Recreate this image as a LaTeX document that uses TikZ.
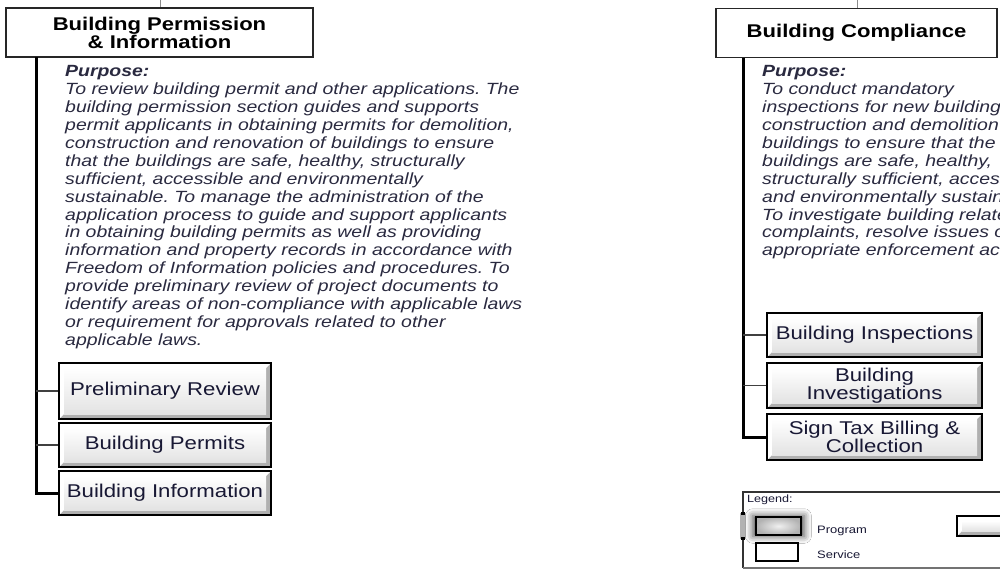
\documentclass[tikz,border=0pt]{standalone}
\usepackage{fontspec}
\setmainfont{Liberation Sans}[FakeStretch=1.2]
\usetikzlibrary{calc,shadows.blur}
\frenchspacing
\definecolor{txt}{RGB}{42,42,64}
\definecolor{boxtxt}{RGB}{24,24,52}
\tikzset{
  titlebox/.style={draw=black!85, line width=1.6pt, fill=white, minimum height=49pt,
    inner sep=0pt, align=center, text=black, font=\bfseries\fontsize{18.4}{18}\selectfont},
  purp/.style={anchor=north west, inner sep=0pt, align=left, text=txt,
    font=\itshape\fontsize{16.2}{17.9}\selectfont},
  progbox/.style={draw=black, line width=2.4pt, inner sep=0pt, align=center, text=boxtxt,
    font=\fontsize{18.5}{17}\selectfont,
    path picture={
      \fill[gray!62] (path picture bounding box.south west) rectangle (path picture bounding box.north east);
      \fill[white] (path picture bounding box.south west) -- (path picture bounding box.north west)
        -- (path picture bounding box.north east) -- ([shift={(-5pt,-5pt)}]path picture bounding box.north east)
        -- ([shift={(5pt,-5pt)}]path picture bounding box.north west) -- ([shift={(5pt,5pt)}]path picture bounding box.south west) -- cycle;
      \shade[top color=white, bottom color=gray!22] ([shift={(5pt,5pt)}]path picture bounding box.south west)
        rectangle ([shift={(-5pt,-5pt)}]path picture bounding box.north east);
    }},
  trunk/.style={draw=black, line width=3pt},
  branch/.style={draw=black!75, line width=1.5pt},
  stub/.style={draw=black!45, line width=1pt},
  legline/.style={draw=black!80, line width=1.5pt},
  legtext/.style={anchor=base west, inner sep=0pt, text=boxtxt, font=\fontsize{10.8}{11}\selectfont},
}
\begin{document}
\begin{tikzpicture}[x=1pt,y=-1pt]
\clip (0,0) rectangle (1000,570);
\fill[white] (0,0) rectangle (1000,570);

% titles
\node[titlebox, minimum width=307pt] (t1) at (159.5,32.5) {Building Permission\\\& Information};
\node[titlebox, minimum width=281pt] (t2) at (856.5,33) {Building Compliance};
\coordinate (s1) at (160,0);
\coordinate (s2) at (857,0);
\draw[stub] (s1) -- (s1 |- t1.north);
\draw[stub] (s2) -- (s2 |- t2.north);

% purposes
\node[purp] (u1) at (65,65.5) {\textbf{Purpose:}\\
To review building permit and other applications. The\\
building permission section guides and supports\\
permit applicants in obtaining permits for demolition,\\
construction and renovation of buildings to ensure\\
that the buildings are safe, healthy, structurally\\
sufficient, accessible and environmentally\\
sustainable. To manage the administration of the\\
application process to guide and support applicants\\
in obtaining building permits as well as providing\\
information and property records in accordance with\\
Freedom of Information policies and procedures. To\\
provide preliminary review of project documents to\\
identify areas of non-compliance with applicable laws\\
or requirement for approvals related to other\\
applicable laws.};

\node[purp] (u2) at (762,65.5) {\textbf{Purpose:}\\
To conduct mandatory\\
inspections for new building\\
construction and demolition\\
buildings to ensure that the\\
buildings are safe, healthy,\\
structurally sufficient, accessible\\
and environmentally sustainable.\\
To investigate building related\\
complaints, resolve issues or\\
appropriate enforcement action.};

% left programs
\coordinate (v1) at (36,57);
\node[progbox, minimum width=212pt, minimum height=56pt] (p1) at (165,391) {Preliminary Review};
\node[progbox, minimum width=212pt, minimum height=44pt] (p2) at (165,445) {Building Permits};
\node[progbox, minimum width=212pt, minimum height=44pt] (p3) at (165,493) {Building Information};
\draw[trunk] (v1) |- (p3.west);
\draw[branch] (v1 |- p1.west) -- (p1.west);
\draw[branch] (v1 |- p2.west) -- (p2.west);

% right programs
\coordinate (v2) at (743,58);
\node[progbox, minimum width=215pt, minimum height=44pt] (r1) at (874.5,335) {Building Inspections};
\node[progbox, minimum width=215pt, minimum height=45pt] (r2) at (874.5,385.5) {Building\\Investigations};
\node[progbox, minimum width=215pt, minimum height=46pt] (r3) at (874.5,437) {Sign Tax Billing \&\\Collection};
\draw[trunk] (v2) |- (r3.west);
\draw[branch] (v2 |- r1.west) -- (r1.west);
\draw[branch] (v2 |- r2.west) -- (r2.west);

% legend
\coordinate (lg) at (743,492);
\coordinate (lgb) at (743,568);
\draw[legline] (1005,492) -- (lg) -- (lgb);
\draw[draw=black!55, line width=1.5pt] (lgb) -- (1005,568);
\node[legtext, font=\fontsize{10.5}{11}\selectfont] (lgt) at (747,502) {Legend:};
\fill[gray!60] (740,513) rectangle (745.5,539);
\fill[black] (741,512) rectangle (744.5,514.5);
\fill[black] (741,537) rectangle (744.5,539.5);
\node[draw=black, line width=1.2pt, minimum width=45pt, minimum height=18pt, inner sep=0pt,
  inner color=gray!12, outer color=gray!60,
  blur shadow={shadow xshift=0pt, shadow yshift=0pt, shadow blur radius=6pt, shadow opacity=70, shadow scale=1.15}] (li1) at (778.5,526) {};
\node[legtext] (lp) at (817,533) {Program};
\node[draw=black, line width=1.2pt, fill=white, minimum width=42pt, minimum height=18pt, inner sep=0pt] (ls) at (777,552) {};
\node[legtext] (lsv) at (817,558) {Service};
\node[progbox, line width=2.2pt, minimum width=60pt, minimum height=20pt] (lb) at (987,526) {};
\end{tikzpicture}
\end{document}
